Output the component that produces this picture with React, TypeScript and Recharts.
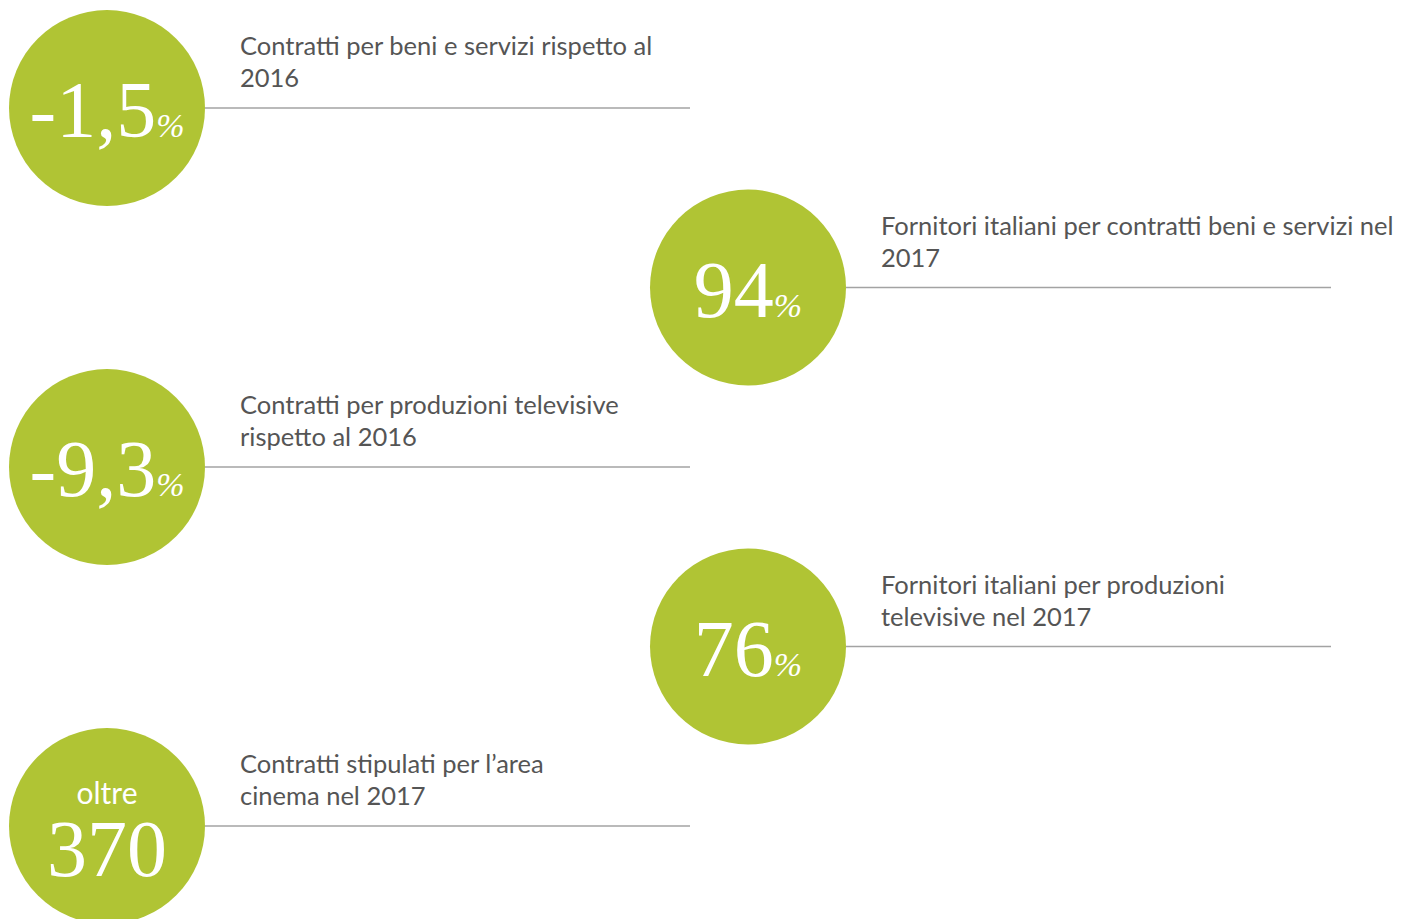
import React from "react";
import { ScatterChart, Scatter, XAxis, YAxis } from "recharts";

const values = ["-1,5", "94", "-9,3", "76", "370"];
const units = ["%", "%", "%", "%", ""];
const prefixes = ["", "", "", "", "oltre"];
const captionLine1 = [
  "Contratti per beni e servizi rispetto al",
  "Fornitori italiani per contratti beni e servizi nel",
  "Contratti per produzioni televisive",
  "Fornitori italiani per produzioni",
  "Contratti stipulati per l\u2019area",
];
const captionLine2 = ["2016", "2017", "rispetto al 2016", "televisive nel 2017", "cinema nel 2017"];

const table = values.map((v, i) => ({
  row: i,
  col: i % 2,
  value: v,
  unit: units[i],
  prefix: prefixes[i],
  line1: captionLine1[i],
  line2: captionLine2[i],
}));

const GREEN = "#b0c434";
const R = 98;
const SERIF = "'Liberation Serif', 'Times New Roman', 'DejaVu Serif', serif";
const SANS = "Lato, 'Noto Sans', sans-serif";

const Badge = (props: any) => {
  const { cx, cy, payload } = props;
  const hasPrefix = !!payload.prefix;
  return (
    <g>
      <line x1={cx + R} x2={cx + 583} y1={cy} y2={cy} stroke="#a3a3a3" strokeWidth={1.3} />
      <circle cx={cx} cy={cy} r={R} fill={GREEN} />
      {hasPrefix && (
        <text x={cx} y={cy - 22} textAnchor="middle" fill="#ffffff" style={{ fontFamily: SANS, fontSize: 30 }}>
          {payload.prefix}
        </text>
      )}
      <text
        x={cx}
        y={hasPrefix ? cy + 50 : cy + 29}
        textAnchor="middle"
        fill="#ffffff"
        style={{ fontFamily: SERIF, fontSize: 80 }}
      >
        <tspan style={{ fontFamily: SERIF, fontSize: 80 }}>{payload.value}</tspan>
        {payload.unit && (
          <tspan style={{ fontFamily: SERIF, fontSize: 34, fontStyle: "italic" }}>{payload.unit}</tspan>
        )}
      </text>
      <text x={cx + 133} y={cy - 53} fill="#555555" style={{ fontFamily: SANS, fontSize: 25.5 }}>
        {payload.line1}
      </text>
      <text x={cx + 133} y={cy - 21} fill="#555555" style={{ fontFamily: SANS, fontSize: 25.5 }}>
        {payload.line2}
      </text>
    </g>
  );
};

export default function App() {
  return (
    <div style={{ position: "absolute", left: 0, top: 0, width: 1404, height: 919, background: "#ffffff" }}>
      <ScatterChart width={1404} height={919} margin={{ top: 108, bottom: 93, left: 107, right: 656 }}>
        <XAxis dataKey="col" type="number" domain={[0, 1]} hide />
        <YAxis dataKey="row" type="number" domain={[0, 4]} reversed hide />
        <Scatter data={table} shape={Badge} isAnimationActive={false} />
      </ScatterChart>
    </div>
  );
}
